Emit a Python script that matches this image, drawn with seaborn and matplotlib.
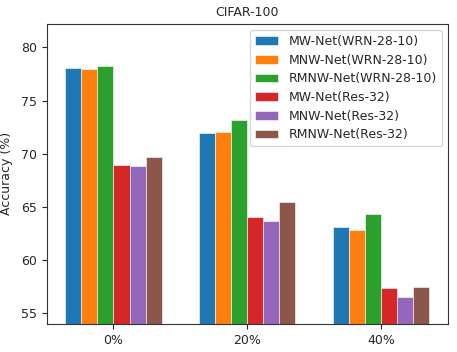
import pandas as pd
import matplotlib
matplotlib.use("Agg")
import matplotlib.pyplot as plt
import seaborn as sns

noise_levels = ["0%", "20%", "40%"]
methods = ["MW-Net(WRN-28-10)", "MNW-Net(WRN-28-10)", "RMNW-Net(WRN-28-10)",
           "MW-Net(Res-32)", "MNW-Net(Res-32)", "RMNW-Net(Res-32)"]
mw_wrn = [78.04, 71.94, 63.06]
mnw_wrn = [77.94, 72.03, 62.87]
rmnw_wrn = [78.22, 73.19, 64.34]
mw_res = [68.93, 64.0, 57.36]
mnw_res = [68.85, 63.69, 56.5]
rmnw_res = [69.69, 65.44, 57.42]

values = [mw_wrn, mnw_wrn, rmnw_wrn, mw_res, mnw_res, rmnw_res]
rows = []
for m, vals in zip(methods, values):
    for n, v in zip(noise_levels, vals):
        rows.append({"noise": n, "method": m, "acc": v})
df = pd.DataFrame(rows)

sns.set_style("ticks")
plt.rcParams["font.family"] = ["DejaVu Sans"]

fig = plt.figure(figsize=(4.57, 3.52), dpi=100)
ax = fig.add_axes([0.102, 0.080, 0.878, 0.852])
sns.barplot(data=df, x="noise", y="acc", hue="method", hue_order=methods,
            palette="tab10", saturation=1, width=0.72, errorbar=None,
            edgecolor="white", linewidth=0.4, ax=ax)
ax.set_ylim(54, 82.2)
ax.set_xlim(-0.5, 2.5)
ax.set_yticks([55, 60, 65, 70, 75, 80])
ax.set_xlabel("")
ax.set_ylabel("Accuracy (%)", fontsize=9, labelpad=6)
ax.set_title("CIFAR-100", fontsize=9)
ax.tick_params(labelsize=9)
for s in ax.spines.values():
    s.set_color("#333333")
ax.legend(loc="upper right", fontsize=9, handlelength=1.9, borderpad=0.4,
          labelspacing=0.45, framealpha=0.8)
fig.savefig("out.png", dpi=100)
